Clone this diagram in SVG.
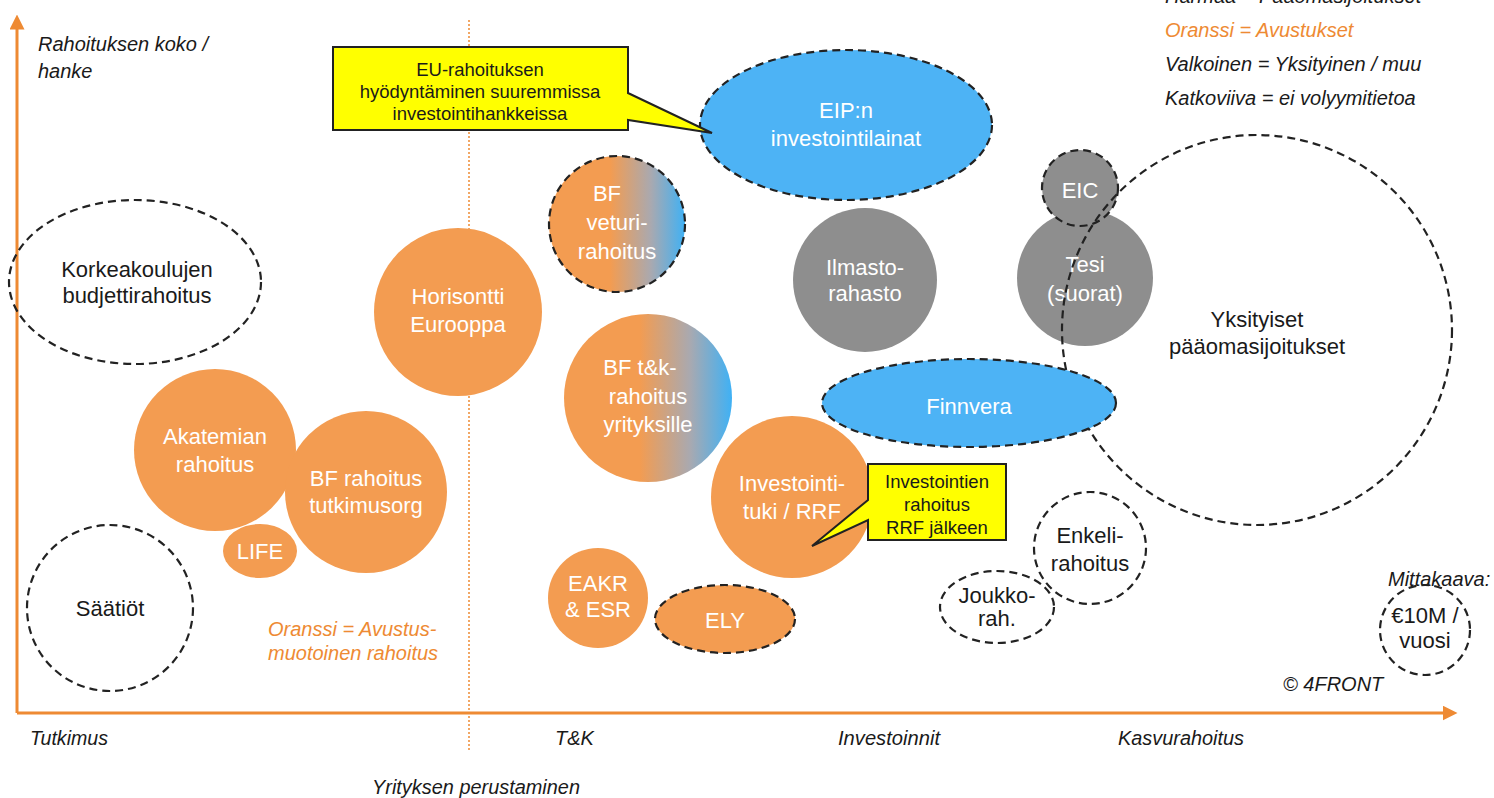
<svg xmlns="http://www.w3.org/2000/svg" width="1494" height="798" viewBox="0 0 1494 798">
<defs>
<style>
text{font-family:"Liberation Sans",Arial,sans-serif}
.ax{font-size:20px;font-style:italic;fill:#1a1a1a}
.lg{font-size:20px;font-style:italic;fill:#1a1a1a}
.or{fill:#EE8A33}
.w{font-size:22px;fill:#fff;text-anchor:middle}
.k{font-size:22px;fill:#1a1a1a;text-anchor:middle}
.cb{font-size:18.5px;fill:#1a1a1a;text-anchor:middle}
.dash{fill:none;stroke:#222;stroke-width:2.2;stroke-dasharray:8 5}
.o{fill:#F39C51}
.b{fill:#4DB3F5}
.g{fill:#8E8E8E}
.y{fill:#FFFF00;stroke:#222;stroke-width:2}
</style>
<linearGradient id="grad" x1="0" y1="0" x2="1" y2="0">
<stop offset="0" stop-color="#F39C51"/>
<stop offset="0.45" stop-color="#F39C51"/>
<stop offset="0.75" stop-color="#A9A9B0"/>
<stop offset="1" stop-color="#3FB1F5"/>
</linearGradient>
<marker id="ah" viewBox="0 0 10 10" refX="5" refY="5" markerWidth="5" markerHeight="5" orient="auto">
<path d="M0,0 L10,5 L0,10 Z" fill="#EE8A33"/>
</marker>
</defs>

<g id="axes">
<line x1="17" y1="713" x2="17" y2="22" stroke="#EE8A33" stroke-width="3" marker-end="url(#ah)"/>
<line x1="17" y1="713" x2="1450" y2="713" stroke="#EE8A33" stroke-width="3" marker-end="url(#ah)"/>
<line x1="469" y1="20" x2="469" y2="750" stroke="#EE8A33" stroke-width="1.5" stroke-dasharray="2 2"/>
</g>

<g id="labels">
<text class="ax" x="38" y="51">Rahoituksen koko /</text>
<text class="ax" x="38" y="78">hanke</text>
<text class="ax" x="30" y="745" textLength="78" lengthAdjust="spacingAndGlyphs">Tutkimus</text>
<text class="ax" x="555" y="745">T&amp;K</text>
<text class="ax" x="838" y="745" textLength="102" lengthAdjust="spacingAndGlyphs">Investoinnit</text>
<text class="ax" x="1118" y="745" textLength="126" lengthAdjust="spacingAndGlyphs">Kasvurahoitus</text>
<text class="ax" x="372" y="794" textLength="208" lengthAdjust="spacingAndGlyphs">Yrityksen perustaminen</text>
<text class="lg" x="1165" y="3">Harmaa = Pääomasijoitukset</text>
<text class="lg or" x="1165" y="37">Oranssi = Avustukset</text>
<text class="lg" x="1165" y="71">Valkoinen = Yksityinen / muu</text>
<text class="lg" x="1165" y="105">Katkoviiva = ei volyymitietoa</text>
<text class="lg" x="1388" y="586">Mittakaava:</text>
<text class="lg" x="1283" y="691" font-size="16.5">© 4FRONT</text>
<text class="lg or" x="268" y="636">Oranssi = Avustus-</text>
<text class="lg or" x="268" y="660">muotoinen rahoitus</text>
</g>

<g id="korkeakoulut">
<ellipse class="dash" cx="135" cy="282" rx="126" ry="82"/>
<text class="k" x="137" y="277">Korkeakoulujen</text>
<text class="k" x="137" y="303">budjettirahoitus</text>
</g>
<g id="saatiot">
<circle class="dash" cx="110" cy="608" r="83"/>
<text class="k" x="110" y="616">Säätiöt</text>
</g>
<g id="akatemia">
<circle class="o" cx="215" cy="450" r="81"/>
<text class="w" x="215" y="444">Akatemian</text>
<text class="w" x="215" y="472">rahoitus</text>
</g>
<g id="bf-tutkimus">
<circle class="o" cx="366" cy="492" r="81"/>
<text class="w" x="366" y="486">BF rahoitus</text>
<text class="w" x="366" y="513">tutkimusorg</text>
</g>
<g id="life">
<ellipse class="o" cx="260" cy="551" rx="37" ry="27"/>
<text class="w" x="260" y="559" font-size="20">LIFE</text>
</g>
<g id="horisontti">
<circle class="o" cx="458" cy="312" r="84"/>
<text class="w" x="458" y="304">Horisontti</text>
<text class="w" x="458" y="332">Eurooppa</text>
</g>
<g id="bf-veturi">
<circle cx="617" cy="224" r="68" fill="url(#grad)"/>
<circle class="dash" cx="617" cy="224" r="68"/>
<text class="w" x="607" y="201">BF</text>
<text class="w" x="617" y="230">veturi-</text>
<text class="w" x="617" y="259">rahoitus</text>
</g>
<g id="bf-tk">
<circle cx="648" cy="398" r="84" fill="url(#grad)"/>
<text class="w" x="640" y="375">BF t&amp;k-</text>
<text class="w" x="648" y="404">rahoitus</text>
<text class="w" x="648" y="432">yrityksille</text>
</g>
<g id="eip">
<ellipse class="b" cx="846" cy="125" rx="146" ry="75"/>
<ellipse class="dash" cx="846" cy="125" rx="146" ry="75"/>
<text class="w" x="846" y="118">EIP:n</text>
<text class="w" x="846" y="146">investointilainat</text>
</g>
<g id="ilmasto">
<circle class="g" cx="865" cy="280" r="72"/>
<text class="w" x="865" y="275">Ilmasto-</text>
<text class="w" x="865" y="301">rahasto</text>
</g>
<g id="tesi">
<circle class="g" cx="1085" cy="278" r="68"/>
<text class="w" x="1085" y="272">Tesi</text>
<text class="w" x="1085" y="301">(suorat)</text>
</g>
<g id="eic">
<circle class="g" cx="1080" cy="188" r="38"/>
<circle class="dash" cx="1080" cy="188" r="38"/>
<text class="w" x="1080" y="198">EIC</text>
</g>
<g id="yksityiset">
<circle class="dash" cx="1257" cy="330" r="195"/>
<text class="k" x="1257" y="327">Yksityiset</text>
<text class="k" x="1257" y="354">pääomasijoitukset</text>
</g>
<g id="finnvera">
<ellipse class="b" cx="969" cy="403" rx="147" ry="44"/>
<ellipse class="dash" cx="969" cy="403" rx="147" ry="44"/>
<text class="w" x="969" y="414">Finnvera</text>
</g>
<g id="investointituki">
<circle class="o" cx="792" cy="497" r="81"/>
<text class="w" x="792" y="491">Investointi-</text>
<text class="w" x="792" y="519">tuki / RRF</text>
</g>
<g id="eakr">
<circle class="o" cx="598" cy="598" r="50"/>
<text class="w" x="598" y="591">EAKR</text>
<text class="w" x="598" y="617">&amp; ESR</text>
</g>
<g id="ely">
<ellipse class="o" cx="725" cy="619" rx="70" ry="34"/>
<ellipse class="dash" cx="725" cy="619" rx="70" ry="34"/>
<text class="w" x="725" y="628" font-size="20">ELY</text>
</g>
<g id="enkeli">
<circle class="dash" cx="1090" cy="548" r="56"/>
<text class="k" x="1090" y="543">Enkeli-</text>
<text class="k" x="1090" y="571">rahoitus</text>
</g>
<g id="joukko">
<ellipse class="dash" cx="997" cy="607" rx="57" ry="36"/>
<text class="k" x="997" y="603" font-size="14.5">Joukko-</text>
<text class="k" x="997" y="626" font-size="14.5">rah.</text>
</g>
<g id="mittakaava">
<circle class="dash" cx="1425" cy="630" r="45"/>
<text class="k" x="1425" y="623">€10M /</text>
<text class="k" x="1425" y="648">vuosi</text>
</g>

<g id="callout-eu">
<path class="y" d="M333,47 H628 V93 L712,133 L628,120 V130 H333 Z"/>
<text class="cb" x="480" y="76">EU-rahoituksen</text>
<text class="cb" x="480" y="98">hyödyntäminen suuremmissa</text>
<text class="cb" x="480" y="120">investointihankkeissa</text>
</g>
<g id="callout-rrf">
<path class="y" d="M868,464 H1006 V540 H868 V520 L812,546 L868,500 Z"/>
<text class="cb" x="937" y="488" font-size="17.5">Investointien</text>
<text class="cb" x="937" y="511" font-size="17.5">rahoitus</text>
<text class="cb" x="937" y="534" font-size="17.5">RRF jälkeen</text>
</g>
</svg>
